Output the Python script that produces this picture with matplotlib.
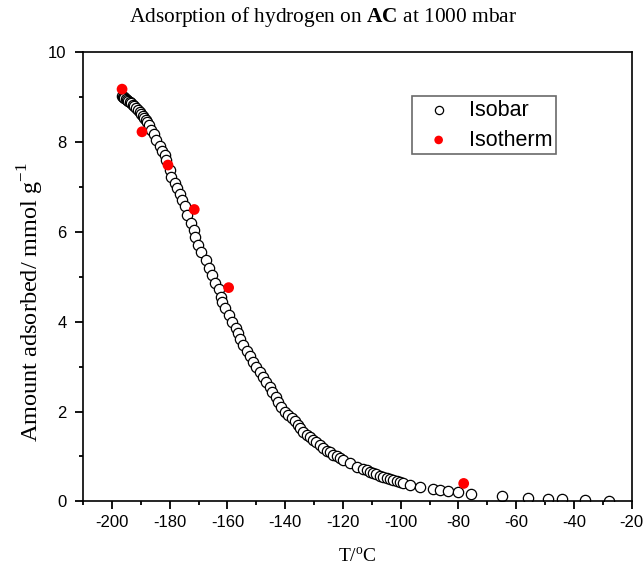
import matplotlib
matplotlib.use("Agg")
import matplotlib.pyplot as plt
from matplotlib.ticker import MultipleLocator

serif = 'Liberation Serif'
plt.rcParams['axes.unicode_minus'] = False
plt.rcParams['mathtext.fontset'] = 'custom'
plt.rcParams['mathtext.rm'] = serif
plt.rcParams['mathtext.bf'] = serif + ':bold'

# Isobar data (T in C, amount in mmol/g)
isobar_T = [-196.6, -196.3, -196.0, -195.7, -195.3, -194.9, -194.5, -193.9, -193.3, -192.7,
            -192.2, -191.6, -191.0, -190.4, -189.8, -189.3, -188.8, -188.3, -187.7, -187.2,
            -186.4, -185.6, -184.6, -183.5, -182.5, -181.8, -181.2, -180.0, -179.4, -178.3,
            -177.5, -176.6, -175.6, -174.8, -173.9, -172.5, -171.7, -171.2, -170.2, -169.0,
            -167.6, -166.5, -165.4, -164.2, -163.0, -162.3, -161.9, -160.7, -159.6, -158.3,
            -157.1, -156.3, -155.8, -154.6, -153.4, -152.3, -151.1, -150.0, -148.8, -147.7,
            -146.7, -145.4, -144.6, -143.3, -142.5, -141.3, -140.2, -139.0, -137.8, -136.7,
            -135.5, -135.0, -133.8, -132.6, -131.5, -130.3, -129.2, -128.0, -126.9, -125.7,
            -124.6, -123.4, -122.2, -121.1, -119.9, -117.6, -115.3, -113.0, -111.8, -110.7,
            -109.5, -108.4, -107.2, -106.1, -104.9, -103.8, -102.6, -101.4, -100.3, -99.2,
            -96.8, -93.4, -88.7, -86.4, -83.8, -80.3, -75.7, -65.0, -55.8, -48.9,
            -44.2, -36.2, -27.9]
isobar_q = [9.03, 9.01, 9.00, 8.98, 8.96, 8.94, 8.92, 8.90, 8.87, 8.83,
            8.80, 8.76, 8.72, 8.68, 8.63, 8.58, 8.54, 8.49, 8.44, 8.38,
            8.28, 8.19, 8.04, 7.91, 7.81, 7.71, 7.60, 7.38, 7.23, 7.09,
            6.97, 6.84, 6.71, 6.58, 6.37, 6.19, 6.04, 5.89, 5.72, 5.55,
            5.37, 5.20, 5.04, 4.87, 4.72, 4.56, 4.45, 4.30, 4.15, 4.00,
            3.87, 3.74, 3.61, 3.48, 3.36, 3.24, 3.11, 3.00, 2.89, 2.78,
            2.66, 2.55, 2.44, 2.32, 2.22, 2.11, 2.00, 1.92, 1.85, 1.78,
            1.70, 1.63, 1.55, 1.48, 1.43, 1.37, 1.33, 1.26, 1.18, 1.13,
            1.09, 1.03, 1.00, 0.96, 0.92, 0.86, 0.76, 0.72, 0.69, 0.66,
            0.63, 0.60, 0.57, 0.54, 0.52, 0.49, 0.48, 0.46, 0.43, 0.40,
            0.37, 0.33, 0.28, 0.26, 0.23, 0.20, 0.17, 0.11, 0.07, 0.05,
            0.05, 0.03, 0.02]

# Isotherm points
isotherm_T = [-196.5, -189.6, -180.6, -171.5, -159.6, -78.2]
isotherm_q = [9.18, 8.23, 7.49, 6.50, 4.76, 0.40]

fig = plt.figure(figsize=(6.44, 5.75), dpi=100)
ax = fig.add_axes([0.129, 0.128, 0.852, 0.781])

ax.scatter(isobar_T, isobar_q, s=55, facecolors='white', edgecolors='black',
           linewidths=0.9, label='Isobar', zorder=2)
ax.scatter(isotherm_T, isotherm_q, s=60, color='red', edgecolors='none',
           label='Isotherm', zorder=3)

ax.set_xlim(-210, -20)
ax.set_ylim(0, 10)
ax.xaxis.set_major_locator(MultipleLocator(20))
ax.xaxis.set_minor_locator(MultipleLocator(10))
ax.yaxis.set_major_locator(MultipleLocator(2))
ax.yaxis.set_minor_locator(MultipleLocator(1))
ax.tick_params(which='major', direction='out', length=6, width=1.3,
               labelsize=12, labelfontfamily='Liberation Sans')
ax.tick_params(which='minor', direction='out', length=3, width=1.3)
ax.tick_params(axis='y', which='major', pad=6)
ax.tick_params(axis='x', which='major', pad=4)
for sp in ax.spines.values():
    sp.set_linewidth(1.2)

ax.set_xlabel('T/$^{\\mathrm{o}}$C', fontsize=14, family=serif, labelpad=12)
ax.set_ylabel('Amount adsorbed/ mmol g$^{\\mathrm{-1}}$', fontsize=17.5, family=serif)
ax.yaxis.set_label_coords(-0.068, 0.445)

fig.text(0.502, 0.970, 'Adsorption of hydrogen on $\\mathbf{AC}$ at 1000 mbar',
         ha='center', va='center', fontsize=15.4, family=serif)

leg = ax.legend(loc='upper left', bbox_to_anchor=(0.599, 0.902), borderaxespad=0,
                prop={'family': 'Liberation Sans', 'size': 15.5},
                frameon=True, fancybox=False, edgecolor='#444444',
                handletextpad=0.3, borderpad=0.15, labelspacing=0.42,
                markerscale=0.8, handlelength=2.2)
leg.get_frame().set_linewidth(1.2)

fig.savefig('out.png', dpi=100)
